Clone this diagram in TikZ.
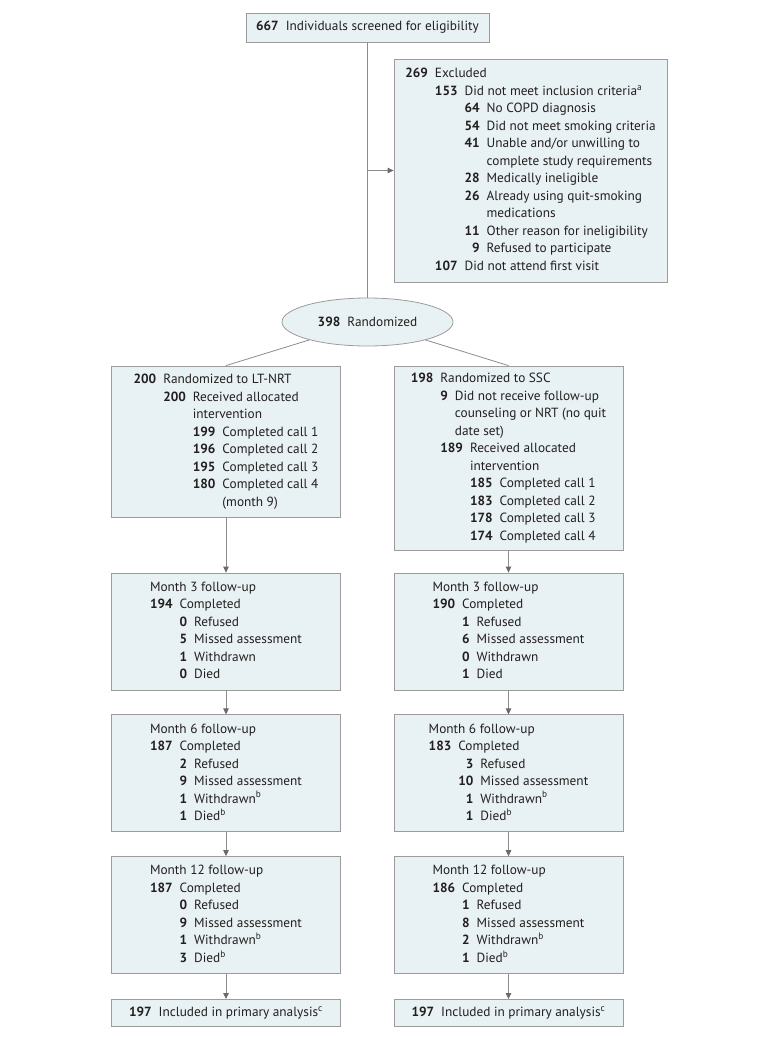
\documentclass[tikz,border=0pt]{standalone}
\usepackage{fontspec}
\setmainfont{PT Sans}
\usepackage{array}
\usetikzlibrary{positioning,arrows.meta,shapes.geometric}
\definecolor{cfondo}{HTML}{E8F1F3}
\definecolor{cborde}{HTML}{9C9C9C}
\definecolor{clinea}{HTML}{8C8C8C}
\definecolor{cpunta}{HTML}{6A6A6A}
\definecolor{ctexto}{HTML}{231F20}
\newlength{\espnum}
\setlength{\espnum}{7pt}
\setlength{\tabcolsep}{0pt}
\newcolumntype{N}{@{\hspace{\espnum}}}
\tikzset{
  caja/.style={rectangle, draw=cborde, fill=cfondo, line width=0.8pt, inner sep=0pt,
    minimum width=229pt, text=ctexto, font=\fontsize{13.3}{17.5}\selectfont},
  elipse/.style={ellipse, draw=cborde, fill=cfondo, line width=0.8pt, inner sep=0pt,
    minimum width=171pt, minimum height=48pt, text=ctexto,
    font=\fontsize{13.3}{17.5}\selectfont},
  linea/.style={draw=clinea, line width=0.8pt},
  flecha/.style={linea, -{Triangle[length=6pt, width=5.5pt, color=cpunta]}},
}

\begin{document}
\begin{tikzpicture}[x=1pt, y=-1pt]
  \useasboundingbox (0,0) rectangle (780,1038);
  % cribado y exclusiones
  \node[caja, minimum width=243pt, minimum height=29pt] (crib) at (367.5,27.5)
    {\textbf{667}\hspace{\espnum}Individuals screened for eligibility};
  \node[caja, minimum width=273pt, minimum height=223pt] (excl) at (530.5,170.5) {%
    \begin{tabular}{rNrNrNl}
      \textbf{269} & \multicolumn{3}{l}{Excluded}\\
      & \textbf{153} & \multicolumn{2}{l}{Did not meet inclusion criteria\textsuperscript{a}}\\
      & & \textbf{64} & No COPD diagnosis\\
      & & \textbf{54} & Did not meet smoking criteria\\
      & & \textbf{41} & Unable and/or unwilling to\\
      & & & complete study requirements\\
      & & \textbf{28} & Medically ineligible\\
      & & \textbf{26} & Already using quit-smoking\\
      & & & medications\\
      & & \textbf{11} & Other reason for ineligibility\\
      & & \textbf{9} & Refused to participate\\
      & \textbf{107} & \multicolumn{2}{l}{Did not attend first visit}
    \end{tabular}};
  \node[elipse] (rand) at (367.5,322) {\textbf{398}\hspace{\espnum}Randomized};
  \coordinate (rama) at (367.5,170.5);

  % brazos
  \node[caja, minimum height=151pt] (lt) at (226,441.5) {%
    \begin{tabular}{rNrNrNl}
      \textbf{200} & \multicolumn{3}{l}{Randomized to LT-NRT}\\
      & \textbf{200} & \multicolumn{2}{l}{Received allocated}\\
      & & \multicolumn{2}{l}{intervention}\\
      & & \textbf{199} & Completed call 1\\
      & & \textbf{196} & Completed call 2\\
      & & \textbf{195} & Completed call 3\\
      & & \textbf{180} & Completed call 4\\
      & & & (month 9)
    \end{tabular}};
  \node[caja, minimum height=184pt] (ssc) at (508.5,458) {%
    \begin{tabular}{rNrNrNl}
      \textbf{198} & \multicolumn{3}{l}{Randomized to SSC}\\
      & \multicolumn{3}{l}{\textbf{9}\hspace{\espnum}Did not receive follow-up}\\
      & \multicolumn{3}{l}{\phantom{\textbf{9}}\hspace{\espnum}counseling or NRT (no quit}\\
      & \multicolumn{3}{l}{\phantom{\textbf{9}}\hspace{\espnum}date set)}\\
      & \textbf{189} & \multicolumn{2}{l}{Received allocated}\\
      & & \multicolumn{2}{l}{intervention}\\
      & & \textbf{185} & Completed call 1\\
      & & \textbf{183} & Completed call 2\\
      & & \textbf{178} & Completed call 3\\
      & & \textbf{174} & Completed call 4
    \end{tabular}};

  % seguimiento
  \node[caja, minimum height=117pt] (lt3) at (226,631.5) {%
    \begin{tabular}{rNrNl}
      \multicolumn{3}{l}{Month 3 follow-up}\\
      \textbf{194} & \multicolumn{2}{l}{Completed}\\
      & \textbf{0} & Refused\\
      & \textbf{5} & Missed assessment\\
      & \textbf{1} & Withdrawn\\
      & \textbf{0} & Died
    \end{tabular}};
  \node[caja, minimum height=117pt] (ssc3) at (508.5,631.5) {%
    \begin{tabular}{rNrNl}
      \multicolumn{3}{l}{Month 3 follow-up}\\
      \textbf{190} & \multicolumn{2}{l}{Completed}\\
      & \textbf{1} & Refused\\
      & \textbf{6} & Missed assessment\\
      & \textbf{0} & Withdrawn\\
      & \textbf{1} & Died
    \end{tabular}};
  \node[caja, minimum height=117pt, below=24pt of lt3] (lt6) {%
    \begin{tabular}{rNrNl}
      \multicolumn{3}{l}{Month 6 follow-up}\\
      \textbf{187} & \multicolumn{2}{l}{Completed}\\
      & \textbf{2} & Refused\\
      & \textbf{9} & Missed assessment\\
      & \textbf{1} & Withdrawn\textsuperscript{b}\\
      & \textbf{1} & Died\textsuperscript{b}
    \end{tabular}};
  \node[caja, minimum height=117pt, below=24pt of ssc3] (ssc6) {%
    \begin{tabular}{rNrNl}
      \multicolumn{3}{l}{Month 6 follow-up}\\
      \textbf{183} & \multicolumn{2}{l}{Completed}\\
      & \textbf{3} & Refused\\
      & \textbf{10} & Missed assessment\\
      & \textbf{1} & Withdrawn\textsuperscript{b}\\
      & \textbf{1} & Died\textsuperscript{b}
    \end{tabular}};
  \node[caja, minimum height=117pt, below=24pt of lt6] (lt12) {%
    \begin{tabular}{rNrNl}
      \multicolumn{3}{l}{Month 12 follow-up}\\
      \textbf{187} & \multicolumn{2}{l}{Completed}\\
      & \textbf{0} & Refused\\
      & \textbf{9} & Missed assessment\\
      & \textbf{1} & Withdrawn\textsuperscript{b}\\
      & \textbf{3} & Died\textsuperscript{b}
    \end{tabular}};
  \node[caja, minimum height=117pt, below=24pt of ssc6] (ssc12) {%
    \begin{tabular}{rNrNl}
      \multicolumn{3}{l}{Month 12 follow-up}\\
      \textbf{186} & \multicolumn{2}{l}{Completed}\\
      & \textbf{1} & Refused\\
      & \textbf{8} & Missed assessment\\
      & \textbf{2} & Withdrawn\textsuperscript{b}\\
      & \textbf{1} & Died\textsuperscript{b}
    \end{tabular}};
  \node[caja, minimum height=27pt, below=25pt of lt12] (ltfin)
    {\textbf{197}\hspace{\espnum}Included in primary analysis\textsuperscript{c}};
  \node[caja, minimum height=27pt, below=25pt of ssc12] (sscfin)
    {\textbf{197}\hspace{\espnum}Included in primary analysis\textsuperscript{c}};

  % conectores
  \draw[linea] (crib) -- (rand);
  \draw[flecha] (rama) -- (excl);
  \draw[linea] (rand) -- (lt.north);
  \draw[linea] (rand) -- (ssc.north);
  \draw[flecha] (lt) -- (lt3);
  \draw[flecha] (ssc) -- (ssc3);
  \draw[flecha] (lt3) -- (lt6);
  \draw[flecha] (ssc3) -- (ssc6);
  \draw[flecha] (lt6) -- (lt12);
  \draw[flecha] (ssc6) -- (ssc12);
  \draw[flecha] (lt12) -- (ltfin);
  \draw[flecha] (ssc12) -- (sscfin);
\end{tikzpicture}
\end{document}
